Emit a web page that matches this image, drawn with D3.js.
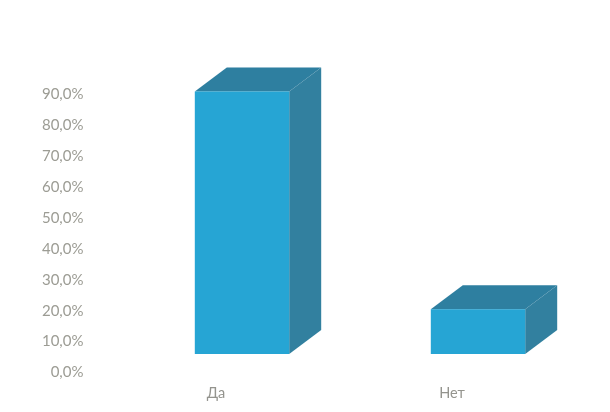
<!DOCTYPE html>
<html><head><meta charset="utf-8">
<script src="https://cdn.jsdelivr.net/npm/d3@7"></script>
<style>html,body{margin:0;padding:0;background:#fff}svg{display:block}text{font-family:Lato,"Open Sans",sans-serif}</style>
</head><body><svg id="c" width="610" height="412"></svg>
<script>
const categories = ["Да", "Нет"];
const values = [85, 14.5];
const tickValues = [0,10,20,30,40,50,60,70,80,90];
const tickLabels = ["0,0%","10,0%","20,0%","30,0%","40,0%","50,0%","60,0%","70,0%","80,0%","90,0%"];

const svg = d3.select("#c");
const defs = svg.append("defs");
defs.append("filter").attr("id","soft").append("feGaussianBlur").attr("stdDeviation",0.4);
const y = d3.scaleLinear().domain([0,90]).range([371,93]);
const x = d3.scaleBand().domain(categories).range([124,596]).paddingInner(0.6).paddingOuter(0.3);
const liftY = 17, depthX = 32, depthY = 24, labelShift = -26;

const yAxis = d3.axisLeft(y).tickValues(tickValues).tickSize(0).tickPadding(0)
  .tickFormat((d,i)=>tickLabels[i]);
const gy = svg.append("g").attr("transform","translate(83.5,1)").attr("filter","url(#soft)").call(yAxis);
gy.select(".domain").remove();
gy.selectAll("text").attr("font-size",15).attr("fill","#9c9c94").style("font-family",'Lato,"Open Sans",sans-serif');

const xAxis = d3.axisBottom(x).tickSize(0).tickPadding(0);
const gx = svg.append("g").attr("transform",`translate(${labelShift},388)`).attr("filter","url(#soft)").call(xAxis);
gx.select(".domain").remove();
gx.selectAll("text").attr("font-size",14.5).attr("fill","#94948e").style("font-family",'Lato,"Open Sans",sans-serif');

const bars = svg.append("g").attr("filter","url(#soft)").selectAll("g").data(categories.map((c,i)=>({c,v:values[i]}))).join("g");
const pts = a => a.map(p=>p.join(",")).join(" ");
bars.append("polygon").attr("fill","#2f7fa0").attr("points",d=>{
  const l=x(d.c),r=l+x.bandwidth(),t=y(d.v)-liftY;
  return pts([[l,t],[l+depthX,t-depthY],[r+depthX,t-depthY],[r,t]]);
});
bars.append("polygon").attr("fill","#32809f").attr("points",d=>{
  const r=x(d.c)+x.bandwidth(),t=y(d.v)-liftY,b=y(0)-liftY;
  return pts([[r,t],[r+depthX,t-depthY],[r+depthX,b-depthY],[r,b]]);
});
bars.append("rect").attr("fill","#27a5d4")
  .attr("x",d=>x(d.c)).attr("width",x.bandwidth())
  .attr("y",d=>y(d.v)-liftY).attr("height",d=>y(0)-y(d.v));
</script></body></html>
